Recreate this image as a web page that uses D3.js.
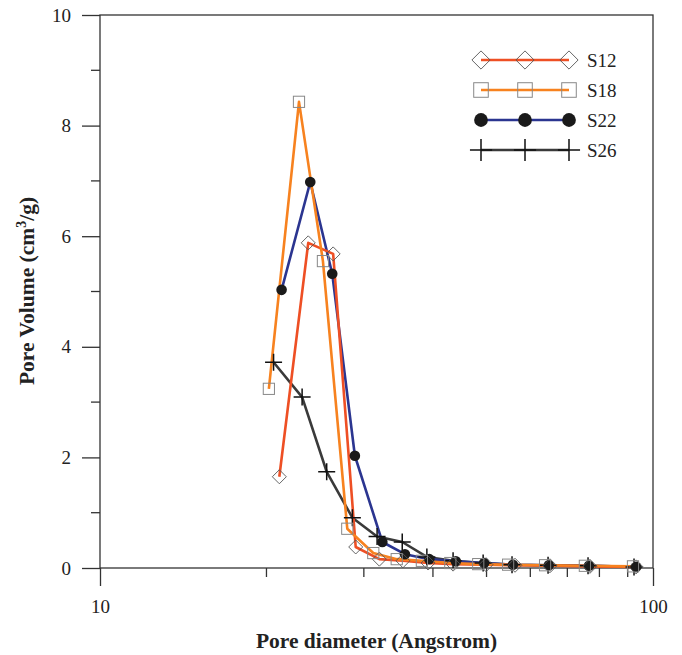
<!DOCTYPE html>
<html>
<head>
<meta charset="utf-8">
<script src="https://d3js.org/d3.v7.min.js"></script>
<style>
body { margin: 0; background: #fff; }
text { font-family: "Liberation Serif", "DejaVu Serif", serif; fill: #222; }
</style>
</head>
<body>
<svg id="chart" width="682" height="655"></svg>
<script>
// pore diameter (Angstrom) and pore volume
var s12_d = [21.1, 23.8, 26.4, 29.0, 32.0, 35.3, 39.2, 43.5, 49.9, 56.3, 65.1, 76.9, 93.2];
var s12_v = [1.65, 5.88, 5.68, 0.38, 0.16, 0.13, 0.09, 0.07, 0.06, 0.05, 0.04, 0.03, 0.02];

var s18_d = [20.2, 22.9, 25.3, 28.0, 31.2, 34.4, 38.2, 43.0, 48.3, 54.7, 63.8, 75.3, 92.0];
var s18_v = [3.24, 8.43, 5.55, 0.71, 0.27, 0.16, 0.13, 0.09, 0.07, 0.06, 0.05, 0.04, 0.03];

var s22_d = [21.3, 24.0, 26.3, 28.9, 32.4, 35.6, 39.4, 44.0, 49.5, 55.8, 64.8, 76.6, 93.2];
var s22_v = [5.03, 6.98, 5.32, 2.03, 0.47, 0.25, 0.16, 0.12, 0.09, 0.06, 0.05, 0.04, 0.02];

var s26_d = [20.6, 23.2, 25.7, 28.6, 31.7, 35.2, 39.0, 43.5, 49.3, 55.6, 64.6, 76.3, 92.4];
var s26_v = [3.72, 3.09, 1.74, 0.91, 0.57, 0.47, 0.20, 0.13, 0.09, 0.06, 0.05, 0.04, 0.02];

var seriesNames = ["S12", "S18", "S22", "S26"];
var seriesColors = ["#ee4f24", "#f7821f", "#2b3590", "#3a3a3a"];
var seriesMarkers = ["diamond", "square", "circle", "plus"];

var xMajor = [10, 100];
var xMinor = [20, 30, 40, 50, 60, 70, 80, 90];
var yMajor = [0, 2, 4, 6, 8, 10];
var yMinor = [1, 3, 5, 7, 9];

var svg = d3.select("#chart");
var pLeft = 100, pRight = 653, pTop = 15, pBottom = 568;

var x = d3.scaleLog().domain([10, 100]).range([pLeft, pRight]);
var y = d3.scaleLinear().domain([0, 10]).range([pBottom, pTop]);

var axisColor = "#333";

// frame
svg.append("rect")
  .attr("x", pLeft).attr("y", pTop)
  .attr("width", pRight - pLeft).attr("height", pBottom - pTop)
  .attr("fill", "none").attr("stroke", axisColor).attr("stroke-width", 1.3);

// x axis
var xAxis = svg.append("g").attr("transform", "translate(0," + pBottom + ")");
xAxis.call(d3.axisBottom(x).tickValues(xMajor).tickFormat(d3.format("d")).tickSize(18).tickPadding(14));
xAxis.select(".domain").remove();
xAxis.selectAll(".tick line").attr("stroke", axisColor).attr("stroke-width", 1.3);
xAxis.selectAll("text").style("font-size", "19px").attr("fill", "#222");
xAxis.selectAll(".minor")
  .data(xMinor).enter().append("line")
  .attr("class", "minor")
  .attr("x1", function(d) { return x(d); }).attr("x2", function(d) { return x(d); })
  .attr("y1", 0).attr("y2", 9)
  .attr("stroke", axisColor).attr("stroke-width", 1.3);

// y axis
var yAxis = svg.append("g").attr("transform", "translate(" + pLeft + ",0)");
yAxis.call(d3.axisLeft(y).tickValues(yMajor).tickSize(18).tickPadding(11));
yAxis.select(".domain").remove();
yAxis.selectAll(".tick line").attr("stroke", axisColor).attr("stroke-width", 1.3);
yAxis.selectAll("text").style("font-size", "19px").attr("fill", "#222");
yAxis.selectAll(".minor")
  .data(yMinor).enter().append("line")
  .attr("class", "minor")
  .attr("y1", function(d) { return y(d); }).attr("y2", function(d) { return y(d); })
  .attr("x1", 0).attr("x2", -9)
  .attr("stroke", axisColor).attr("stroke-width", 1.3);

// axis titles
svg.append("text")
  .attr("x", (pLeft + pRight) / 2).attr("y", 648)
  .attr("text-anchor", "middle")
  .style("font-size", "21.5px").style("font-weight", "bold")
  .text("Pore diameter (Angstrom)");

var yTitle = svg.append("text")
  .attr("transform", "translate(34," + 291 + ") rotate(-90)")
  .attr("text-anchor", "middle")
  .style("font-size", "21.5px").style("font-weight", "bold");
yTitle.append("tspan").text("Pore Volume (cm");
yTitle.append("tspan").attr("dy", -8).style("font-size", "14px").text("3");
yTitle.append("tspan").attr("dy", 8).text("/g)");

// markers
function drawMarker(g, type, cx, cy, s) {
  if (type === "diamond") {
    var h = 7 * s;
    g.append("path")
      .attr("d", "M" + cx + "," + (cy - h) + "L" + (cx + h) + "," + cy + "L" + cx + "," + (cy + h) + "L" + (cx - h) + "," + cy + "Z")
      .attr("fill", "none").attr("stroke", "#555").attr("stroke-width", 0.9);
  } else if (type === "square") {
    var a = 5.6 * s;
    g.append("rect")
      .attr("x", cx - a).attr("y", cy - a).attr("width", 2 * a).attr("height", 2 * a)
      .attr("fill", "none").attr("stroke", "#888").attr("stroke-width", 1);
  } else if (type === "circle") {
    g.append("circle")
      .attr("cx", cx).attr("cy", cy).attr("r", 5.3 * s)
      .attr("fill", "#1a1a1a");
  } else {
    var p = 8.5 * s;
    g.append("path")
      .attr("d", "M" + (cx - p) + "," + cy + "H" + (cx + p) + "M" + cx + "," + (cy - p) + "V" + (cy + p))
      .attr("stroke", "#111").attr("stroke-width", 1.5);
  }
}

var allD = [s12_d, s18_d, s22_d, s26_d];
var allV = [s12_v, s18_v, s22_v, s26_v];

var line = d3.line()
  .x(function(d) { return x(d[0]); })
  .y(function(d) { return y(d[1]); });

// lines first, then markers on top
var plot = svg.append("g");
var order = [3, 2, 0, 1];
order.forEach(function(i) {
  var pts = allD[i].map(function(d, j) { return [d, allV[i][j]]; });
  plot.append("path")
    .datum(pts)
    .attr("fill", "none")
    .attr("stroke", seriesColors[i])
    .attr("stroke-width", 2.6)
    .attr("stroke-linejoin", "round")
    .attr("d", line);
});
order.forEach(function(i) {
  var g = plot.append("g");
  allD[i].forEach(function(d, j) {
    drawMarker(g, seriesMarkers[i], x(d), y(allV[i][j]), 1);
  });
});

// legend
var legendY = [60, 90, 120, 150];
var legend = svg.append("g");
seriesNames.forEach(function(name, i) {
  var ly = legendY[i];
  legend.append("line")
    .attr("x1", 481).attr("x2", 569).attr("y1", ly).attr("y2", ly)
    .attr("stroke", seriesColors[i]).attr("stroke-width", 2.6);
  [481, 525, 569].forEach(function(lx) { drawMarker(legend, seriesMarkers[i], lx, ly, 1.3); });
  legend.append("text")
    .attr("x", 587).attr("y", ly + 7)
    .style("font-size", "19px")
    .text(name);
});
</script>
</body>
</html>
